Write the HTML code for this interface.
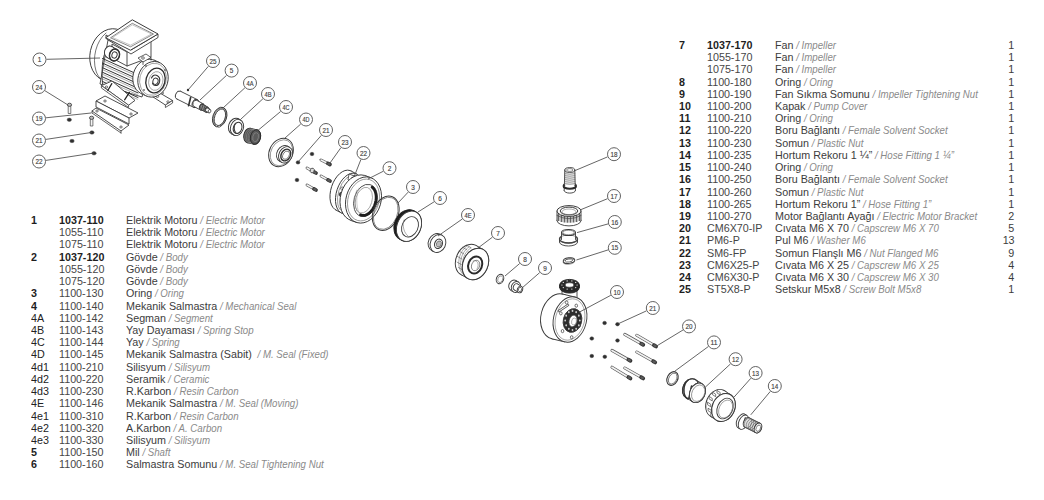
<!DOCTYPE html>
<html><head><meta charset="utf-8"><style>
html,body{margin:0;padding:0;background:#fff;}
body{width:1044px;height:500px;position:relative;overflow:hidden;font-family:"Liberation Sans",sans-serif;}
.r{position:absolute;left:0;width:1044px;height:12.22px;font-size:11.3px;line-height:12.22px;color:#3c3c3c;white-space:pre;}
.r span{position:absolute;top:0;transform:scaleX(0.95);transform-origin:0 0;}
.r span.q{transform-origin:100% 0;}
.n{color:#222;}
.b{font-weight:bold;color:#1e1e1e;}
.c{color:#464646;}
.c.b{color:#1e1e1e;}
.d i{font-size:10.2px;color:#8a8a8a;}
.q{color:#3c3c3c;}
svg{position:absolute;left:0;top:0;}
</style></head><body>
<svg width="1044" height="500" viewBox="0 0 1044 500" font-family="Liberation Sans, sans-serif"><ellipse cx="111" cy="55" rx="21" ry="26.5" fill="#fff" stroke="#3a3a3a" stroke-width="0.9" transform="rotate(12 111 55)"/>
<path d="M 106,33 C 96,41 92,58 96,71 C 98,77 102,81 106,82" fill="none" stroke="#3a3a3a" stroke-width="0.7" stroke-linejoin="round" stroke-linecap="round"/>
<polygon points="108,40 152,60 142,97 100,84" fill="#fff" stroke="#3a3a3a" stroke-width="0.9" stroke-linejoin="round"/>
<line x1="102.5" y1="58.5" x2="138" y2="74.5" stroke="#333" stroke-width="1" stroke-linecap="round"/>
<line x1="103" y1="60.7" x2="137.5" y2="76.3" stroke="#777" stroke-width="0.6" stroke-linecap="round"/>
<line x1="102.5" y1="63.1" x2="138" y2="79.1" stroke="#333" stroke-width="1" stroke-linecap="round"/>
<line x1="103" y1="65.3" x2="137.5" y2="80.9" stroke="#777" stroke-width="0.6" stroke-linecap="round"/>
<line x1="102.5" y1="67.7" x2="138" y2="83.7" stroke="#333" stroke-width="1" stroke-linecap="round"/>
<line x1="103" y1="69.9" x2="137.5" y2="85.5" stroke="#777" stroke-width="0.6" stroke-linecap="round"/>
<line x1="102.5" y1="72.3" x2="138" y2="88.3" stroke="#333" stroke-width="1" stroke-linecap="round"/>
<line x1="103" y1="74.5" x2="137.5" y2="90.1" stroke="#777" stroke-width="0.6" stroke-linecap="round"/>
<line x1="102.5" y1="76.9" x2="138" y2="92.9" stroke="#333" stroke-width="1" stroke-linecap="round"/>
<line x1="103" y1="79.1" x2="137.5" y2="94.7" stroke="#777" stroke-width="0.6" stroke-linecap="round"/>
<line x1="102.5" y1="81.5" x2="138" y2="97.5" stroke="#333" stroke-width="1" stroke-linecap="round"/>
<line x1="103" y1="83.7" x2="137.5" y2="99.3" stroke="#777" stroke-width="0.6" stroke-linecap="round"/>
<path d="M 109,46 C 103,52 101,66 102.5,84" fill="none" stroke="#333" stroke-width="0.9" stroke-linejoin="round" stroke-linecap="round"/>
<polygon points="101.4,85.6 112,81 135,100.4 128.6,105.2" fill="#fff" stroke="#3a3a3a" stroke-width="0.9" stroke-linejoin="round"/>
<polygon points="101.4,85.6 128.6,105.2 128.6,107.5 101.4,88" fill="#fff" stroke="#3a3a3a" stroke-width="0.8" stroke-linejoin="round"/>
<line x1="111.8" y1="83.6" x2="107.8" y2="90.5" stroke="#222" stroke-width="1.2" stroke-linecap="round"/>
<line x1="129.4" y1="92.4" x2="124.6" y2="99.8" stroke="#222" stroke-width="1.2" stroke-linecap="round"/>
<polygon points="151,95.6 159,92.5 172.6,100.5 165.4,105" fill="#fff" stroke="#3a3a3a" stroke-width="0.9" stroke-linejoin="round"/>
<polygon points="165.4,105 172.6,100.5 172.6,103 165.4,107.5" fill="#fff" stroke="#3a3a3a" stroke-width="0.8" stroke-linejoin="round"/>
<ellipse cx="106.5" cy="87" rx="1.2" ry="1" fill="#fff" stroke="#3a3a3a" stroke-width="0.7"/>
<ellipse cx="157.4" cy="96.5" rx="1.3" ry="1" fill="#fff" stroke="#3a3a3a" stroke-width="0.7"/>
<ellipse cx="168" cy="101.8" rx="1.2" ry="1" fill="#fff" stroke="#3a3a3a" stroke-width="0.7"/>
<ellipse cx="148" cy="77" rx="15" ry="18" fill="#fff" stroke="#3a3a3a" stroke-width="0.9" transform="rotate(15 148 77)"/>
<polygon points="141.37,93.68 146.37,95.98 159.63,62.62 154.63,60.32" fill="#fff"/>
<line x1="141.37" y1="93.68" x2="146.37" y2="95.98" stroke="#3a3a3a" stroke-width="0.9" stroke-linecap="round"/>
<line x1="154.63" y1="60.32" x2="159.63" y2="62.62" stroke="#3a3a3a" stroke-width="0.9" stroke-linecap="round"/>
<ellipse cx="153" cy="79.3" rx="15" ry="18" fill="#fff" stroke="#3a3a3a" stroke-width="0.9" transform="rotate(15 153 79.3)"/>
<ellipse cx="153" cy="79.3" rx="13.2" ry="16.2" fill="none" stroke="#777" stroke-width="0.6" transform="rotate(15 153 79.3)"/>
<ellipse cx="155.5" cy="80.5" rx="9.5" ry="12.5" fill="#fff" stroke="#2a2a2a" stroke-width="1.3" transform="rotate(15 155.5 80.5)"/>
<ellipse cx="155.8" cy="81" rx="7" ry="9.5" fill="none" stroke="#777" stroke-width="0.6" transform="rotate(15 155.8 81)"/>
<path d="M 151.5,78 C 154,72 161,76 159.5,82 C 158,87 153,86 152.5,83" fill="none" stroke="#333" stroke-width="1.1" stroke-linejoin="round" stroke-linecap="round"/>
<ellipse cx="155.5" cy="81.3" rx="2.6" ry="3.2" fill="#fff" stroke="#3a3a3a" stroke-width="1" transform="rotate(15 155.5 81.3)"/>
<ellipse cx="146" cy="66" rx="0.9" ry="0.9" fill="#666"/>
<ellipse cx="165" cy="70" rx="0.9" ry="0.9" fill="#666"/>
<ellipse cx="163" cy="93" rx="0.9" ry="0.9" fill="#666"/>
<ellipse cx="144" cy="90" rx="0.9" ry="0.9" fill="#666"/>
<polygon points="112,44 127,52 151,40 151,57 127,66 112,58" fill="#fff" stroke="#3a3a3a" stroke-width="0.9" stroke-linejoin="round"/>
<line x1="127" y1="52" x2="127" y2="66" stroke="#3a3a3a" stroke-width="0.9" stroke-linecap="round"/>
<polygon points="106,38.5 131,54 158,37.5 158,34 131,50 106,35" fill="#fff" stroke="#3a3a3a" stroke-width="0.9" stroke-linejoin="round"/>
<polygon points="105.7,37.8 132.3,19.8 158,34 130.4,50.2" fill="#fff" stroke="#3a3a3a" stroke-width="1" stroke-linejoin="round"/>
<polygon points="110.5,37.8 132.3,23.3 153.5,34 130.6,46.8" fill="none" stroke="#555" stroke-width="0.7" stroke-linejoin="round"/>
<polygon points="112.5,37.5 132.3,24.8 151.5,34 130.6,45.2" fill="none" stroke="#888" stroke-width="0.5" stroke-linejoin="round"/>
<ellipse cx="109.5" cy="52" rx="5" ry="6" fill="#fff" stroke="#3a3a3a" stroke-width="1" transform="rotate(15 109.5 52)"/>
<polygon points="106.82,57.31 111.82,60.31 117.18,49.69 112.18,46.69" fill="#fff"/>
<line x1="106.82" y1="57.31" x2="111.82" y2="60.31" stroke="#3a3a3a" stroke-width="1" stroke-linecap="round"/>
<line x1="112.18" y1="46.69" x2="117.18" y2="49.69" stroke="#3a3a3a" stroke-width="1" stroke-linecap="round"/>
<ellipse cx="114.5" cy="55" rx="5" ry="6" fill="#fff" stroke="#3a3a3a" stroke-width="1" transform="rotate(15 114.5 55)"/>
<ellipse cx="114.5" cy="55" rx="5" ry="6" fill="none" stroke="#333" stroke-width="1.4" transform="rotate(15 114.5 55)"/>
<ellipse cx="114.5" cy="55" rx="2.6" ry="3.2" fill="#fff" stroke="#3a3a3a" stroke-width="1" transform="rotate(15 114.5 55)"/>
<polygon points="138,58 146,54 151,57.5 143,62" fill="#fff" stroke="#3a3a3a" stroke-width="0.8" stroke-linejoin="round"/>
<line x1="143" y1="62" x2="143" y2="64.5" stroke="#3a3a3a" stroke-width="0.8" stroke-linecap="round"/>
<line x1="151" y1="57.5" x2="151" y2="60" stroke="#3a3a3a" stroke-width="0.8" stroke-linecap="round"/>
<ellipse cx="143" cy="58" rx="1.4" ry="1.2" fill="#fff" stroke="#3a3a3a" stroke-width="0.7"/>
<polygon points="96,101 105,96 138,113 129,118" fill="#fff" stroke="#3a3a3a" stroke-width="0.9" stroke-linejoin="round"/>
<polygon points="96,101 129,118 129,124 96,107" fill="#fff" stroke="#3a3a3a" stroke-width="0.9" stroke-linejoin="round"/>
<polygon points="92,111 96,108 129,125 121,131" fill="#fff" stroke="#3a3a3a" stroke-width="0.9" stroke-linejoin="round"/>
<line x1="121" y1="131" x2="121" y2="133" stroke="#3a3a3a" stroke-width="0.8" stroke-linecap="round"/>
<line x1="92" y1="111" x2="92" y2="113" stroke="#3a3a3a" stroke-width="0.8" stroke-linecap="round"/>
<line x1="92" y1="113" x2="121" y2="133" stroke="#3a3a3a" stroke-width="0.8" stroke-linecap="round"/>
<ellipse cx="105" cy="101" rx="1.3" ry="1" fill="#fff" stroke="#3a3a3a" stroke-width="0.7"/>
<ellipse cx="131" cy="114" rx="1.3" ry="1" fill="#fff" stroke="#3a3a3a" stroke-width="0.7"/>
<ellipse cx="97" cy="111" rx="1.3" ry="1" fill="#fff" stroke="#3a3a3a" stroke-width="0.7"/>
<ellipse cx="121" cy="127" rx="1.3" ry="1" fill="#fff" stroke="#3a3a3a" stroke-width="0.7"/>
<polygon points="68.2,104.5 70.8,104.5 70.8,113.5 68.2,113.5" fill="#f4f4f4" stroke="#444" stroke-width="0.7" stroke-linejoin="round"/>
<ellipse cx="69.5" cy="104.8" rx="2.1" ry="1.6" fill="#bbb" stroke="#333" stroke-width="0.8"/>
<polygon points="90.3,117.5 92.9,117.5 92.9,126 90.3,126" fill="#f4f4f4" stroke="#444" stroke-width="0.7" stroke-linejoin="round"/>
<ellipse cx="91.6" cy="117.8" rx="2.1" ry="1.6" fill="#bbb" stroke="#333" stroke-width="0.8"/>
<ellipse cx="69.3" cy="119.8" rx="2.2" ry="1.7" fill="#2e2e2e" stroke="#555" stroke-width="0.5"/>
<ellipse cx="91.9" cy="132.5" rx="2.2" ry="1.7" fill="#2e2e2e" stroke="#555" stroke-width="0.5"/>
<ellipse cx="72" cy="141" rx="2.2" ry="1.7" fill="#2e2e2e" stroke="#555" stroke-width="0.5"/>
<ellipse cx="94" cy="153.3" rx="2.2" ry="1.7" fill="#2e2e2e" stroke="#555" stroke-width="0.5"/>
<ellipse cx="178.8" cy="95.2" rx="3.2" ry="4.3" fill="#fff" stroke="#3a3a3a" stroke-width="0.9" transform="rotate(20 178.8 95.2)"/>
<polygon points="177.12,99.15 193.82,107.45 197.18,99.55 180.48,91.25" fill="#fff"/>
<line x1="177.12" y1="99.15" x2="193.82" y2="107.45" stroke="#3a3a3a" stroke-width="0.9" stroke-linecap="round"/>
<line x1="180.48" y1="91.25" x2="197.18" y2="99.55" stroke="#3a3a3a" stroke-width="0.9" stroke-linecap="round"/>
<ellipse cx="195.5" cy="103.5" rx="3.2" ry="4.3" fill="#fff" stroke="#3a3a3a" stroke-width="0.9" transform="rotate(20 195.5 103.5)"/>
<line x1="190.6" y1="97.6" x2="188.6" y2="105.6" stroke="#333" stroke-width="1.7" stroke-linecap="round"/>
<ellipse cx="195.5" cy="103.5" rx="2.6" ry="3.4" fill="#fff" stroke="#3a3a3a" stroke-width="0.9" transform="rotate(20 195.5 103.5)"/>
<polygon points="194.09,106.58 200.59,110.08 203.41,103.92 196.91,100.42" fill="#fff"/>
<line x1="194.09" y1="106.58" x2="200.59" y2="110.08" stroke="#3a3a3a" stroke-width="0.9" stroke-linecap="round"/>
<line x1="196.91" y1="100.42" x2="203.41" y2="103.92" stroke="#3a3a3a" stroke-width="0.9" stroke-linecap="round"/>
<ellipse cx="202" cy="107" rx="2.6" ry="3.4" fill="#fff" stroke="#3a3a3a" stroke-width="0.9" transform="rotate(20 202 107)"/>
<ellipse cx="202" cy="107" rx="2" ry="2.8" fill="#888" stroke="#3a3a3a" stroke-width="0.9" transform="rotate(20 202 107)"/>
<polygon points="200.85,109.55 205.85,112.35 208.15,107.25 203.15,104.45" fill="#888"/>
<line x1="200.85" y1="109.55" x2="205.85" y2="112.35" stroke="#3a3a3a" stroke-width="0.9" stroke-linecap="round"/>
<line x1="203.15" y1="104.45" x2="208.15" y2="107.25" stroke="#3a3a3a" stroke-width="0.9" stroke-linecap="round"/>
<ellipse cx="207" cy="109.8" rx="2" ry="2.8" fill="#888" stroke="#3a3a3a" stroke-width="0.9" transform="rotate(20 207 109.8)"/>
<line x1="203.2" y1="104.6" x2="201.5" y2="109.3" stroke="#333" stroke-width="0.7" stroke-linecap="round"/>
<line x1="205.2" y1="105.8" x2="203.5" y2="110.3" stroke="#333" stroke-width="0.7" stroke-linecap="round"/>
<ellipse cx="207" cy="109.8" rx="1.3" ry="1.8" fill="#fff" stroke="#3a3a3a" stroke-width="0.8" transform="rotate(20 207 109.8)"/>
<polygon points="206.26,111.44 208.76,112.84 210.24,109.56 207.74,108.16" fill="#fff"/>
<line x1="206.26" y1="111.44" x2="208.76" y2="112.84" stroke="#3a3a3a" stroke-width="0.8" stroke-linecap="round"/>
<line x1="207.74" y1="108.16" x2="210.24" y2="109.56" stroke="#3a3a3a" stroke-width="0.8" stroke-linecap="round"/>
<ellipse cx="209.5" cy="111.2" rx="1.3" ry="1.8" fill="#fff" stroke="#3a3a3a" stroke-width="0.8" transform="rotate(20 209.5 111.2)"/>
<ellipse cx="219.7" cy="117.1" rx="6" ry="9.4" fill="none" stroke="#999" stroke-width="1.6" transform="rotate(20 219.7 117.1)"/>
<ellipse cx="219.7" cy="117.1" rx="6.8" ry="10.2" fill="none" stroke="#3a3a3a" stroke-width="0.9" transform="rotate(20 219.7 117.1)"/>
<ellipse cx="219.9" cy="117.3" rx="5.2" ry="8.6" fill="none" stroke="#3a3a3a" stroke-width="0.8" transform="rotate(20 219.9 117.3)"/>
<ellipse cx="216.5" cy="125.8" rx="1.2" ry="0.8" fill="#fff" stroke="#3a3a3a" stroke-width="0.6"/>
<ellipse cx="219.2" cy="126.4" rx="1.2" ry="0.8" fill="#fff" stroke="#3a3a3a" stroke-width="0.6"/>
<ellipse cx="235" cy="126.3" rx="6.4" ry="8.3" fill="#fff" stroke="#3a3a3a" stroke-width="0.95" transform="rotate(20 235 126.3)"/>
<polygon points="231.35,133.72 233.35,134.92 240.65,120.08 238.65,118.88" fill="#fff"/>
<line x1="231.35" y1="133.72" x2="233.35" y2="134.92" stroke="#3a3a3a" stroke-width="0.95" stroke-linecap="round"/>
<line x1="238.65" y1="118.88" x2="240.65" y2="120.08" stroke="#3a3a3a" stroke-width="0.95" stroke-linecap="round"/>
<ellipse cx="237" cy="127.5" rx="6.4" ry="8.3" fill="#fff" stroke="#3a3a3a" stroke-width="0.95" transform="rotate(20 237 127.5)"/>
<ellipse cx="237.6" cy="127.9" rx="4.2" ry="5.8" fill="#fff" stroke="#333" stroke-width="1" transform="rotate(20 237.6 127.9)"/>
<path d="M 235.5,123.5 C 233.5,126 233.8,131 236,133" fill="none" stroke="#444" stroke-width="1.2" stroke-linejoin="round" stroke-linecap="round"/>
<ellipse cx="248.8" cy="135.5" rx="5" ry="7.3" fill="#555" stroke="#2c2c2c" stroke-width="1" transform="rotate(12 248.8 135.5)"/>
<polygon points="247.28,142.64 253.98,144.14 257.02,129.86 250.32,128.36" fill="#555"/>
<line x1="247.28" y1="142.64" x2="253.98" y2="144.14" stroke="#2c2c2c" stroke-width="1" stroke-linecap="round"/>
<line x1="250.32" y1="128.36" x2="257.02" y2="129.86" stroke="#2c2c2c" stroke-width="1" stroke-linecap="round"/>
<ellipse cx="255.5" cy="137" rx="5" ry="7.3" fill="#555" stroke="#2c2c2c" stroke-width="1" transform="rotate(12 255.5 137)"/>
<ellipse cx="249.64" cy="135.69" rx="4.8" ry="7.1" fill="none" stroke="#999" stroke-width="0.45" transform="rotate(12 249.64 135.69)"/>
<ellipse cx="251.31" cy="136.06" rx="4.8" ry="7.1" fill="none" stroke="#999" stroke-width="0.45" transform="rotate(12 251.31 136.06)"/>
<ellipse cx="252.99" cy="136.44" rx="4.8" ry="7.1" fill="none" stroke="#999" stroke-width="0.45" transform="rotate(12 252.99 136.44)"/>
<ellipse cx="254.66" cy="136.81" rx="4.8" ry="7.1" fill="none" stroke="#999" stroke-width="0.45" transform="rotate(12 254.66 136.81)"/>
<ellipse cx="255.5" cy="137" rx="5" ry="7.3" fill="#5a5a5a" stroke="#2c2c2c" stroke-width="0.9" transform="rotate(12 255.5 137)"/>
<ellipse cx="255.6" cy="137.2" rx="2.8" ry="4.6" fill="none" stroke="#999" stroke-width="0.5" transform="rotate(12 255.6 137.2)"/>
<ellipse cx="281" cy="152.5" rx="11.6" ry="14.8" fill="#fff" stroke="#3a3a3a" stroke-width="0.95" transform="rotate(28 281 152.5)"/>
<ellipse cx="281.4" cy="152.8" rx="10.4" ry="13.6" fill="none" stroke="#666" stroke-width="0.6" transform="rotate(28 281.4 152.8)"/>
<ellipse cx="283.5" cy="153.6" rx="6.6" ry="8.5" fill="#fff" stroke="#3a3a3a" stroke-width="0.9" transform="rotate(28 283.5 153.6)"/>
<polygon points="279.31,160.99 281.41,162.19 289.79,147.41 287.69,146.21" fill="#fff"/>
<line x1="279.31" y1="160.99" x2="281.41" y2="162.19" stroke="#3a3a3a" stroke-width="0.9" stroke-linecap="round"/>
<line x1="287.69" y1="146.21" x2="289.79" y2="147.41" stroke="#3a3a3a" stroke-width="0.9" stroke-linecap="round"/>
<ellipse cx="285.6" cy="154.8" rx="6.6" ry="8.5" fill="#fff" stroke="#3a3a3a" stroke-width="0.9" transform="rotate(28 285.6 154.8)"/>
<ellipse cx="285.8" cy="155" rx="4.6" ry="6.2" fill="#fff" stroke="#333" stroke-width="1.4" transform="rotate(28 285.8 155)"/>
<ellipse cx="286" cy="155.2" rx="3" ry="4.4" fill="#fff" stroke="#3a3a3a" stroke-width="0.6" transform="rotate(28 286 155.2)"/>
<ellipse cx="312" cy="154" rx="1.9" ry="1.71" fill="#2e2e2e" stroke="#444" stroke-width="0.5"/>
<ellipse cx="298" cy="162.4" rx="1.9" ry="1.71" fill="#2e2e2e" stroke="#444" stroke-width="0.5"/>
<ellipse cx="297" cy="180" rx="1.9" ry="1.71" fill="#2e2e2e" stroke="#444" stroke-width="0.5"/>
<line x1="321" y1="160" x2="327.94" y2="163.47" stroke="#555" stroke-width="2.8" stroke-linecap="round"/>
<line x1="321" y1="160" x2="327.94" y2="163.47" stroke="#f2f2f2" stroke-width="1.5" stroke-linecap="round"/>
<line x1="327.94" y1="163.47" x2="330" y2="164.5" stroke="#333" stroke-width="3.7" stroke-linecap="round"/>
<line x1="328.3" y1="163.65" x2="329.46" y2="164.23" stroke="#5a5a5a" stroke-width="2.3" stroke-linecap="round"/>
<line x1="307" y1="168" x2="313.99" y2="171.88" stroke="#555" stroke-width="2.8" stroke-linecap="round"/>
<line x1="307" y1="168" x2="313.99" y2="171.88" stroke="#f2f2f2" stroke-width="1.5" stroke-linecap="round"/>
<line x1="313.99" y1="171.88" x2="316" y2="173" stroke="#333" stroke-width="3.7" stroke-linecap="round"/>
<line x1="314.34" y1="172.08" x2="315.48" y2="172.71" stroke="#5a5a5a" stroke-width="2.3" stroke-linecap="round"/>
<line x1="321" y1="176" x2="327.99" y2="179.88" stroke="#555" stroke-width="2.8" stroke-linecap="round"/>
<line x1="321" y1="176" x2="327.99" y2="179.88" stroke="#f2f2f2" stroke-width="1.5" stroke-linecap="round"/>
<line x1="327.99" y1="179.88" x2="330" y2="181" stroke="#333" stroke-width="3.7" stroke-linecap="round"/>
<line x1="328.34" y1="180.08" x2="329.48" y2="180.71" stroke="#5a5a5a" stroke-width="2.3" stroke-linecap="round"/>
<line x1="307" y1="185" x2="313.99" y2="188.88" stroke="#555" stroke-width="2.8" stroke-linecap="round"/>
<line x1="307" y1="185" x2="313.99" y2="188.88" stroke="#f2f2f2" stroke-width="1.5" stroke-linecap="round"/>
<line x1="313.99" y1="188.88" x2="316" y2="190" stroke="#333" stroke-width="3.7" stroke-linecap="round"/>
<line x1="314.34" y1="189.08" x2="315.48" y2="189.71" stroke="#5a5a5a" stroke-width="2.3" stroke-linecap="round"/>
<ellipse cx="312.2" cy="170.5" rx="1.9" ry="2.4" fill="#ddd" stroke="#444" stroke-width="0.8" transform="rotate(28 312.2 170.5)"/>
<ellipse cx="343.5" cy="190.5" rx="12.5" ry="21" fill="#fff" stroke="#3a3a3a" stroke-width="0.9" transform="rotate(18 343.5 190.5)"/>
<polygon points="335.8,209.96 341.3,212.96 356.7,174.04 351.2,171.04" fill="#fff"/>
<line x1="335.8" y1="209.96" x2="341.3" y2="212.96" stroke="#3a3a3a" stroke-width="0.9" stroke-linecap="round"/>
<line x1="351.2" y1="171.04" x2="356.7" y2="174.04" stroke="#3a3a3a" stroke-width="0.9" stroke-linecap="round"/>
<ellipse cx="349" cy="193.5" rx="12.5" ry="21" fill="#fff" stroke="#3a3a3a" stroke-width="0.9" transform="rotate(18 349 193.5)"/>
<ellipse cx="349" cy="193.5" rx="10.5" ry="19" fill="none" stroke="#666" stroke-width="0.6" transform="rotate(18 349 193.5)"/>
<polygon points="350,175 366,181 360,217 343,210" fill="#fff"/>
<line x1="350" y1="175.5" x2="366" y2="181.5" stroke="#3a3a3a" stroke-width="0.8" stroke-linecap="round"/>
<line x1="343" y1="210" x2="357" y2="218" stroke="#3a3a3a" stroke-width="0.8" stroke-linecap="round"/>
<ellipse cx="340.6" cy="194.3" rx="1.6" ry="2" fill="#444" stroke="#3a3a3a" stroke-width="0.5" transform="rotate(18 340.6 194.3)"/>
<ellipse cx="341.9" cy="188.4" rx="1.2" ry="1.5" fill="#fff" stroke="#3a3a3a" stroke-width="0.6" transform="rotate(18 341.9 188.4)"/>
<polygon points="349,174 357,177 356,183 348,180" fill="#fff" stroke="#3a3a3a" stroke-width="0.8" stroke-linejoin="round"/>
<ellipse cx="353" cy="178.5" rx="1.6" ry="1.44" fill="#2e2e2e" stroke="#444" stroke-width="0.5"/>
<ellipse cx="358" cy="198" rx="17.5" ry="23.5" fill="#fff" stroke="#3a3a3a" stroke-width="0.9" transform="rotate(16 358 198)"/>
<polygon points="350.94,220.41 356.44,222.41 370.56,177.59 365.06,175.59" fill="#fff"/>
<line x1="350.94" y1="220.41" x2="356.44" y2="222.41" stroke="#3a3a3a" stroke-width="0.9" stroke-linecap="round"/>
<line x1="365.06" y1="175.59" x2="370.56" y2="177.59" stroke="#3a3a3a" stroke-width="0.9" stroke-linecap="round"/>
<ellipse cx="363.5" cy="200" rx="17.5" ry="23.5" fill="#fff" stroke="#3a3a3a" stroke-width="0.9" transform="rotate(16 363.5 200)"/>
<ellipse cx="363.5" cy="200" rx="15.5" ry="21.3" fill="none" stroke="#666" stroke-width="0.6" transform="rotate(16 363.5 200)"/>
<ellipse cx="365.5" cy="200.5" rx="11.5" ry="16.5" fill="#fff" stroke="#3a3a3a" stroke-width="0.8" transform="rotate(16 365.5 200.5)"/>
<path d="M 372.08,187.11 L 373.07,188.02 L 373.94,189.11 L 374.68,190.38 L 375.28,191.80 L 375.73,193.36 L 376.02,195.02 L 376.15,196.77 L 376.13,198.57 L 375.93,200.41 L 375.58,202.24 L 375.08,204.05 L 374.43,205.81 L 373.64,207.48 L 372.73,209.05 L 371.71,210.48 L 370.59,211.77 L 369.40,212.88 L 368.14,213.80 L 366.85,214.52 L 365.54,215.03 L 364.22,215.31 L 362.93,215.37 L 361.67,215.20 L 360.47,214.81" fill="none" stroke="#1e1e1e" stroke-width="2.8" stroke-linejoin="round" stroke-linecap="round"/>
<ellipse cx="363.8" cy="200.2" rx="8.2" ry="13.2" fill="none" stroke="#777" stroke-width="0.6" transform="rotate(16 363.8 200.2)"/>
<path d="M 357,190 C 354,196 354,205 357,211" fill="none" stroke="#888" stroke-width="0.6" stroke-linejoin="round" stroke-linecap="round"/>
<path d="M 359,188 C 356,195 356,206 359,213" fill="none" stroke="#999" stroke-width="0.5" stroke-linejoin="round" stroke-linecap="round"/>
<ellipse cx="385.7" cy="213.3" rx="12.6" ry="17.8" fill="none" stroke="#3a3a3a" stroke-width="1" transform="rotate(22 385.7 213.3)"/>
<ellipse cx="385.7" cy="213.3" rx="11.5" ry="16.7" fill="none" stroke="#666" stroke-width="0.7" transform="rotate(22 385.7 213.3)"/>
<ellipse cx="406.5" cy="224.8" rx="11.8" ry="15.8" fill="#1e1e1e" stroke="#1e1e1e" stroke-width="0.9" transform="rotate(25 406.5 224.8)"/>
<polygon points="399.09,238.74 401.59,240.14 416.41,212.26 413.91,210.86" fill="#1e1e1e"/>
<line x1="399.09" y1="238.74" x2="401.59" y2="240.14" stroke="#1e1e1e" stroke-width="0.9" stroke-linecap="round"/>
<line x1="413.91" y1="210.86" x2="416.41" y2="212.26" stroke="#1e1e1e" stroke-width="0.9" stroke-linecap="round"/>
<ellipse cx="409" cy="226.2" rx="11.8" ry="15.8" fill="#1e1e1e" stroke="#1e1e1e" stroke-width="0.9" transform="rotate(25 409 226.2)"/>
<ellipse cx="409" cy="226.2" rx="11.8" ry="15.8" fill="#fff" stroke="#3a3a3a" stroke-width="0.9" transform="rotate(25 409 226.2)"/>
<ellipse cx="410" cy="226.8" rx="8" ry="10.6" fill="#fff" stroke="#3a3a3a" stroke-width="0.9" transform="rotate(25 410 226.8)"/>
<path d="M 404,220 C 402,226 404,233 408,236" fill="none" stroke="#777" stroke-width="0.6" stroke-linejoin="round" stroke-linecap="round"/>
<ellipse cx="436" cy="242.5" rx="7.6" ry="9.2" fill="#fff" stroke="#3a3a3a" stroke-width="0.9" transform="rotate(25 436 242.5)"/>
<polygon points="431.87,250.72 433.87,251.72 442.13,235.28 440.13,234.28" fill="#fff"/>
<line x1="431.87" y1="250.72" x2="433.87" y2="251.72" stroke="#3a3a3a" stroke-width="0.9" stroke-linecap="round"/>
<line x1="440.13" y1="234.28" x2="442.13" y2="235.28" stroke="#3a3a3a" stroke-width="0.9" stroke-linecap="round"/>
<ellipse cx="438" cy="243.5" rx="7.6" ry="9.2" fill="#fff" stroke="#3a3a3a" stroke-width="0.9" transform="rotate(25 438 243.5)"/>
<ellipse cx="438.5" cy="243.8" rx="3.8" ry="4.8" fill="#fff" stroke="#3a3a3a" stroke-width="1.1" transform="rotate(25 438.5 243.8)"/>
<ellipse cx="438.8" cy="244" rx="2.4" ry="3.2" fill="#bbb" stroke="#3a3a3a" stroke-width="0.5" transform="rotate(25 438.8 244)"/>
<ellipse cx="468.5" cy="260" rx="12.4" ry="16.4" fill="#fff" stroke="#3a3a3a" stroke-width="0.95" transform="rotate(25 468.5 260)"/>
<polygon points="460.8,274.46 467.8,278.46 483.2,249.54 476.2,245.54" fill="#fff"/>
<line x1="460.8" y1="274.46" x2="467.8" y2="278.46" stroke="#3a3a3a" stroke-width="0.95" stroke-linecap="round"/>
<line x1="476.2" y1="245.54" x2="483.2" y2="249.54" stroke="#3a3a3a" stroke-width="0.95" stroke-linecap="round"/>
<ellipse cx="475.5" cy="264" rx="12.4" ry="16.4" fill="#fff" stroke="#3a3a3a" stroke-width="0.95" transform="rotate(25 475.5 264)"/>
<path d="M 467.2,246.0 C 456.2,253.0 456.2,271.0 465.2,276.0" fill="none" stroke="#666" stroke-width="0.55" stroke-linejoin="round" stroke-linecap="round"/>
<path d="M 469.0,247.0 C 458.0,254.0 458.0,272.0 467.0,277.0" fill="none" stroke="#666" stroke-width="0.55" stroke-linejoin="round" stroke-linecap="round"/>
<path d="M 470.8,248.0 C 459.8,255.0 459.8,273.0 468.8,278.0" fill="none" stroke="#666" stroke-width="0.55" stroke-linejoin="round" stroke-linecap="round"/>
<line x1="458.46" y1="267.54" x2="462.96" y2="270.14" stroke="#555" stroke-width="0.6" stroke-linecap="round"/>
<line x1="457.02" y1="262.1" x2="461.52" y2="264.7" stroke="#555" stroke-width="0.6" stroke-linecap="round"/>
<line x1="457.25" y1="256.35" x2="461.75" y2="258.95" stroke="#555" stroke-width="0.6" stroke-linecap="round"/>
<line x1="459.12" y1="251.13" x2="463.62" y2="253.73" stroke="#555" stroke-width="0.6" stroke-linecap="round"/>
<line x1="462.36" y1="247.2" x2="466.86" y2="249.8" stroke="#555" stroke-width="0.6" stroke-linecap="round"/>
<line x1="466.49" y1="245.14" x2="470.99" y2="247.74" stroke="#555" stroke-width="0.6" stroke-linecap="round"/>
<ellipse cx="475.5" cy="264" rx="12.4" ry="16.4" fill="#fff" stroke="#3a3a3a" stroke-width="0.95" transform="rotate(25 475.5 264)"/>
<ellipse cx="475.2" cy="265" rx="6.8" ry="8.8" fill="#fff" stroke="#2a2a2a" stroke-width="2" transform="rotate(22 475.2 265)"/>
<ellipse cx="475.6" cy="265.5" rx="4" ry="5.4" fill="#fff" stroke="#666" stroke-width="0.7" transform="rotate(22 475.6 265.5)"/>
<path d="M 473,261 C 477,259 480,264 477,269" fill="none" stroke="#777" stroke-width="0.6" stroke-linejoin="round" stroke-linecap="round"/>
<ellipse cx="500" cy="279" rx="3.6" ry="4.8" fill="none" stroke="#3a3a3a" stroke-width="1" transform="rotate(22 500 279)"/>
<ellipse cx="500.3" cy="279.2" rx="2.4" ry="3.5" fill="none" stroke="#666" stroke-width="0.6" transform="rotate(22 500.3 279.2)"/>
<ellipse cx="513.5" cy="285.5" rx="4.6" ry="5.6" fill="#fff" stroke="#3a3a3a" stroke-width="0.9" transform="rotate(22 513.5 285.5)"/>
<polygon points="510.83,290.4 513.33,291.9 518.67,282.1 516.17,280.6" fill="#fff"/>
<line x1="510.83" y1="290.4" x2="513.33" y2="291.9" stroke="#3a3a3a" stroke-width="0.9" stroke-linecap="round"/>
<line x1="516.17" y1="280.6" x2="518.67" y2="282.1" stroke="#3a3a3a" stroke-width="0.9" stroke-linecap="round"/>
<ellipse cx="516" cy="287" rx="4.6" ry="5.6" fill="#fff" stroke="#3a3a3a" stroke-width="0.9" transform="rotate(22 516 287)"/>
<ellipse cx="516" cy="287" rx="2.6" ry="3.4" fill="#fff" stroke="#3a3a3a" stroke-width="0.9" transform="rotate(22 516 287)"/>
<polygon points="514.4,289.99 518.4,292.49 521.6,286.51 517.6,284.01" fill="#fff"/>
<line x1="514.4" y1="289.99" x2="518.4" y2="292.49" stroke="#3a3a3a" stroke-width="0.9" stroke-linecap="round"/>
<line x1="517.6" y1="284.01" x2="521.6" y2="286.51" stroke="#3a3a3a" stroke-width="0.9" stroke-linecap="round"/>
<ellipse cx="520" cy="289.5" rx="2.6" ry="3.4" fill="#fff" stroke="#3a3a3a" stroke-width="0.9" transform="rotate(22 520 289.5)"/>
<ellipse cx="520" cy="289.5" rx="1.6" ry="2.2" fill="#fff" stroke="#3a3a3a" stroke-width="0.7" transform="rotate(22 520 289.5)"/>
<ellipse cx="569.8" cy="190.5" rx="5.6" ry="2.6" fill="#fff" stroke="#3a3a3a" stroke-width="0.9"/>
<polygon points="564.2,186 575.4,186 575.4,190.5 564.2,190.5" fill="#fff"/>
<line x1="564.2" y1="186" x2="564.2" y2="190.5" stroke="#3a3a3a" stroke-width="0.9" stroke-linecap="round"/>
<line x1="575.4" y1="186" x2="575.4" y2="190.5" stroke="#3a3a3a" stroke-width="0.9" stroke-linecap="round"/>
<ellipse cx="569.8" cy="186" rx="6.2" ry="2.8" fill="#fff" stroke="#2a2a2a" stroke-width="2"/>
<polygon points="564.8,170 574.8,170 575.2,185 564.4,185" fill="#e2e2e2"/>
<line x1="564.8" y1="170" x2="564.4" y2="185.5" stroke="#3a3a3a" stroke-width="0.9" stroke-linecap="round"/>
<line x1="574.8" y1="170" x2="575.2" y2="185.5" stroke="#3a3a3a" stroke-width="0.9" stroke-linecap="round"/>
<path d="M 564.6,173.5 Q 569.8,175.3 575,173.5" fill="none" stroke="#666" stroke-width="0.5" stroke-linejoin="round" stroke-linecap="round"/>
<path d="M 564.6,175.5 Q 569.8,177.3 575,175.5" fill="none" stroke="#666" stroke-width="0.5" stroke-linejoin="round" stroke-linecap="round"/>
<path d="M 564.6,177.5 Q 569.8,179.3 575,177.5" fill="none" stroke="#666" stroke-width="0.5" stroke-linejoin="round" stroke-linecap="round"/>
<path d="M 564.6,179.5 Q 569.8,181.3 575,179.5" fill="none" stroke="#666" stroke-width="0.5" stroke-linejoin="round" stroke-linecap="round"/>
<path d="M 564.6,181.5 Q 569.8,183.3 575,181.5" fill="none" stroke="#666" stroke-width="0.5" stroke-linejoin="round" stroke-linecap="round"/>
<path d="M 564.6,183.5 Q 569.8,185.3 575,183.5" fill="none" stroke="#666" stroke-width="0.5" stroke-linejoin="round" stroke-linecap="round"/>
<ellipse cx="569.8" cy="170" rx="5" ry="2.4" fill="#fff" stroke="#3a3a3a" stroke-width="0.9"/>
<ellipse cx="569.8" cy="170" rx="3.2" ry="1.4" fill="#fff" stroke="#3a3a3a" stroke-width="0.6"/>
<polygon points="557,211 581,211 581,220.5 557,220.5" fill="#fff"/>
<ellipse cx="569" cy="220.5" rx="12" ry="5.4" fill="#fff" stroke="#3a3a3a" stroke-width="0.9"/>
<polygon points="557,211 581,211 581,220.5 557,220.5" fill="#fff"/>
<line x1="557" y1="211" x2="557" y2="220.5" stroke="#3a3a3a" stroke-width="0.9" stroke-linecap="round"/>
<line x1="581" y1="211" x2="581" y2="220.5" stroke="#3a3a3a" stroke-width="0.9" stroke-linecap="round"/>
<polygon points="557.6,214.07 559.4,214.07 559.4,221.07 557.6,221.07" fill="#666"/>
<polygon points="560.6,215.03 562.4,215.03 562.4,222.03 560.6,222.03" fill="#666"/>
<polygon points="563.6,215.5 565.4,215.5 565.4,222.5 563.6,222.5" fill="#666"/>
<polygon points="566.6,215.71 568.4,215.71 568.4,222.71 566.6,222.71" fill="#666"/>
<polygon points="569.6,215.71 571.4,215.71 571.4,222.71 569.6,222.71" fill="#666"/>
<polygon points="572.6,215.5 574.4,215.5 574.4,222.5 572.6,222.5" fill="#666"/>
<polygon points="575.6,215.03 577.4,215.03 577.4,222.03 575.6,222.03" fill="#666"/>
<polygon points="578.6,214.07 580.4,214.07 580.4,221.07 578.6,221.07" fill="#666"/>
<path d="M 557,215.5 Q 569,222 581,215.5" fill="none" stroke="#444" stroke-width="0.7" stroke-linejoin="round" stroke-linecap="round"/>
<ellipse cx="569" cy="211" rx="12" ry="5.4" fill="#fff" stroke="#3a3a3a" stroke-width="1"/>
<ellipse cx="569" cy="211" rx="8.8" ry="3.9" fill="#fff" stroke="#3a3a3a" stroke-width="1"/>
<ellipse cx="569" cy="211.8" rx="7" ry="2.8" fill="none" stroke="#777" stroke-width="0.6"/>
<ellipse cx="568.5" cy="242" rx="9" ry="4" fill="#fff" stroke="#3a3a3a" stroke-width="0.9"/>
<polygon points="559.5,239 577.5,239 577.5,242 559.5,242" fill="#fff"/>
<line x1="559.5" y1="239" x2="559.5" y2="242" stroke="#3a3a3a" stroke-width="0.9" stroke-linecap="round"/>
<line x1="577.5" y1="239" x2="577.5" y2="242" stroke="#3a3a3a" stroke-width="0.9" stroke-linecap="round"/>
<ellipse cx="568.5" cy="239" rx="9" ry="4" fill="none" stroke="#333" stroke-width="1.4"/>
<polygon points="561.5,232.5 575.5,232.5 575.5,239 561.5,239" fill="#fff"/>
<line x1="561.5" y1="232.5" x2="561.5" y2="239.5" stroke="#3a3a3a" stroke-width="0.9" stroke-linecap="round"/>
<line x1="575.5" y1="232.5" x2="575.5" y2="239.5" stroke="#3a3a3a" stroke-width="0.9" stroke-linecap="round"/>
<ellipse cx="568.5" cy="239" rx="9" ry="4" fill="none" stroke="#555" stroke-width="0.6"/>
<ellipse cx="568.5" cy="232.5" rx="7" ry="3" fill="#fff" stroke="#3a3a3a" stroke-width="1.1"/>
<ellipse cx="568.5" cy="232.5" rx="5.6" ry="2.3" fill="#fff" stroke="#3a3a3a" stroke-width="0.6"/>
<ellipse cx="569" cy="260.6" rx="5.8" ry="2.8" fill="#fff" stroke="#3a3a3a" stroke-width="1" transform="rotate(-8 569 260.6)"/>
<ellipse cx="569" cy="260.4" rx="3.8" ry="1.6" fill="#fff" stroke="#3a3a3a" stroke-width="0.7" transform="rotate(-8 569 260.4)"/>
<ellipse cx="569" cy="261.6" rx="5.8" ry="2.6" fill="none" stroke="#666" stroke-width="0.6" transform="rotate(-8 569 261.6)"/>
<polygon points="562,287 577,287 577,298 562,298" fill="#fff"/>
<line x1="562" y1="288" x2="562" y2="298" stroke="#3a3a3a" stroke-width="0.9" stroke-linecap="round"/>
<line x1="577" y1="288" x2="577" y2="298" stroke="#3a3a3a" stroke-width="0.9" stroke-linecap="round"/>
<ellipse cx="569.5" cy="287.5" rx="9.8" ry="5.6" fill="#2a2a2a" stroke="#222" stroke-width="0.9"/>
<polygon points="579.3,287.5 579.3,285 559.7,285 559.7,287.5" fill="#2a2a2a"/>
<line x1="579.3" y1="287.5" x2="579.3" y2="285" stroke="#222" stroke-width="0.9" stroke-linecap="round"/>
<line x1="559.7" y1="287.5" x2="559.7" y2="285" stroke="#222" stroke-width="0.9" stroke-linecap="round"/>
<ellipse cx="569.5" cy="285" rx="9.8" ry="5.6" fill="#2a2a2a" stroke="#222" stroke-width="0.9"/>
<ellipse cx="577.1" cy="285" rx="0.7" ry="0.6" fill="#ddd"/>
<ellipse cx="575.65" cy="287.53" rx="0.7" ry="0.6" fill="#ddd"/>
<ellipse cx="571.85" cy="289.09" rx="0.7" ry="0.6" fill="#ddd"/>
<ellipse cx="567.15" cy="289.09" rx="0.7" ry="0.6" fill="#ddd"/>
<ellipse cx="563.35" cy="287.53" rx="0.7" ry="0.6" fill="#ddd"/>
<ellipse cx="561.9" cy="285" rx="0.7" ry="0.6" fill="#ddd"/>
<ellipse cx="563.35" cy="282.47" rx="0.7" ry="0.6" fill="#ddd"/>
<ellipse cx="567.15" cy="280.91" rx="0.7" ry="0.6" fill="#ddd"/>
<ellipse cx="571.85" cy="280.91" rx="0.7" ry="0.6" fill="#ddd"/>
<ellipse cx="575.65" cy="282.47" rx="0.7" ry="0.6" fill="#ddd"/>
<ellipse cx="569.5" cy="285" rx="4.2" ry="2.2" fill="#fff" stroke="#555" stroke-width="0.7"/>
<ellipse cx="557.5" cy="316.5" rx="16.5" ry="23" fill="#fff" stroke="#3a3a3a" stroke-width="0.95" transform="rotate(14 557.5 316.5)"/>
<polygon points="551.94,338.82 564.44,341.82 575.56,297.18 563.06,294.18" fill="#fff"/>
<line x1="551.94" y1="338.82" x2="564.44" y2="341.82" stroke="#3a3a3a" stroke-width="0.95" stroke-linecap="round"/>
<line x1="563.06" y1="294.18" x2="575.56" y2="297.18" stroke="#3a3a3a" stroke-width="0.95" stroke-linecap="round"/>
<ellipse cx="570" cy="319.5" rx="16.5" ry="23" fill="#fff" stroke="#3a3a3a" stroke-width="0.95" transform="rotate(14 570 319.5)"/>
<ellipse cx="570" cy="319.5" rx="14.5" ry="21" fill="none" stroke="#777" stroke-width="0.6" transform="rotate(14 570 319.5)"/>
<ellipse cx="560.84" cy="313.33" rx="1.3" ry="1.6" fill="#fff" stroke="#3a3a3a" stroke-width="0.7"/>
<ellipse cx="566.67" cy="302.54" rx="1.3" ry="1.6" fill="#fff" stroke="#3a3a3a" stroke-width="0.7"/>
<ellipse cx="576.27" cy="305.67" rx="1.3" ry="1.6" fill="#fff" stroke="#3a3a3a" stroke-width="0.7"/>
<ellipse cx="579.16" cy="325.67" rx="1.3" ry="1.6" fill="#fff" stroke="#3a3a3a" stroke-width="0.7"/>
<ellipse cx="571.69" cy="337.28" rx="1.3" ry="1.6" fill="#fff" stroke="#3a3a3a" stroke-width="0.7"/>
<ellipse cx="562.53" cy="331.1" rx="1.3" ry="1.6" fill="#fff" stroke="#3a3a3a" stroke-width="0.7"/>
<path d="M 559,311 L 568,305" fill="none" stroke="#555" stroke-width="2.4" stroke-linejoin="round" stroke-linecap="round"/>
<path d="M 559,311 L 568,305" fill="none" stroke="#fff" stroke-width="1" stroke-linejoin="round" stroke-linecap="round"/>
<ellipse cx="572.5" cy="320.5" rx="9.2" ry="12" fill="#2d2d2d" stroke="#3a3a3a" stroke-width="0.9" transform="rotate(14 572.5 320.5)"/>
<ellipse cx="579.8" cy="320.5" rx="0.9" ry="1.1" fill="#ccc"/>
<ellipse cx="578.82" cy="325.3" rx="0.9" ry="1.1" fill="#ccc"/>
<ellipse cx="576.15" cy="328.81" rx="0.9" ry="1.1" fill="#ccc"/>
<ellipse cx="572.5" cy="330.1" rx="0.9" ry="1.1" fill="#ccc"/>
<ellipse cx="568.85" cy="328.81" rx="0.9" ry="1.1" fill="#ccc"/>
<ellipse cx="566.18" cy="325.3" rx="0.9" ry="1.1" fill="#ccc"/>
<ellipse cx="565.2" cy="320.5" rx="0.9" ry="1.1" fill="#ccc"/>
<ellipse cx="566.18" cy="315.7" rx="0.9" ry="1.1" fill="#ccc"/>
<ellipse cx="568.85" cy="312.19" rx="0.9" ry="1.1" fill="#ccc"/>
<ellipse cx="572.5" cy="310.9" rx="0.9" ry="1.1" fill="#ccc"/>
<ellipse cx="576.15" cy="312.19" rx="0.9" ry="1.1" fill="#ccc"/>
<ellipse cx="578.82" cy="315.7" rx="0.9" ry="1.1" fill="#ccc"/>
<ellipse cx="573" cy="321" rx="4" ry="6" fill="#fff" stroke="#3a3a3a" stroke-width="0.8" transform="rotate(14 573 321)"/>
<ellipse cx="574" cy="321.5" rx="2.4" ry="3.5" fill="none" stroke="#888" stroke-width="0.6" transform="rotate(14 574 321.5)"/>
<ellipse cx="604.6" cy="323" rx="1.9" ry="1.71" fill="#2e2e2e" stroke="#444" stroke-width="0.5"/>
<ellipse cx="617.5" cy="324.2" rx="1.9" ry="1.71" fill="#2e2e2e" stroke="#444" stroke-width="0.5"/>
<ellipse cx="591.8" cy="338.5" rx="1.9" ry="1.71" fill="#2e2e2e" stroke="#444" stroke-width="0.5"/>
<ellipse cx="617.5" cy="340.5" rx="1.9" ry="1.71" fill="#2e2e2e" stroke="#444" stroke-width="0.5"/>
<ellipse cx="591.8" cy="356" rx="1.9" ry="1.71" fill="#2e2e2e" stroke="#444" stroke-width="0.5"/>
<ellipse cx="604.8" cy="356.8" rx="1.9" ry="1.71" fill="#2e2e2e" stroke="#444" stroke-width="0.5"/>
<line x1="624.8" y1="334.4" x2="641.2" y2="343.67" stroke="#555" stroke-width="3" stroke-linecap="round"/>
<line x1="624.8" y1="334.4" x2="641.2" y2="343.67" stroke="#f2f2f2" stroke-width="1.7" stroke-linecap="round"/>
<line x1="641.2" y1="343.67" x2="643.2" y2="344.8" stroke="#333" stroke-width="3.9" stroke-linecap="round"/>
<line x1="641.55" y1="343.87" x2="642.68" y2="344.5" stroke="#5a5a5a" stroke-width="2.5" stroke-linecap="round"/>
<line x1="636.8" y1="335.2" x2="654.01" y2="345.24" stroke="#555" stroke-width="3" stroke-linecap="round"/>
<line x1="636.8" y1="335.2" x2="654.01" y2="345.24" stroke="#f2f2f2" stroke-width="1.7" stroke-linecap="round"/>
<line x1="654.01" y1="345.24" x2="656" y2="346.4" stroke="#333" stroke-width="3.9" stroke-linecap="round"/>
<line x1="654.36" y1="345.44" x2="655.48" y2="346.1" stroke="#5a5a5a" stroke-width="2.5" stroke-linecap="round"/>
<line x1="612" y1="350.4" x2="628.4" y2="359.67" stroke="#555" stroke-width="3" stroke-linecap="round"/>
<line x1="612" y1="350.4" x2="628.4" y2="359.67" stroke="#f2f2f2" stroke-width="1.7" stroke-linecap="round"/>
<line x1="628.4" y1="359.67" x2="630.4" y2="360.8" stroke="#333" stroke-width="3.9" stroke-linecap="round"/>
<line x1="628.75" y1="359.87" x2="629.88" y2="360.5" stroke="#5a5a5a" stroke-width="2.5" stroke-linecap="round"/>
<line x1="636.8" y1="352" x2="653.2" y2="361.27" stroke="#555" stroke-width="3" stroke-linecap="round"/>
<line x1="636.8" y1="352" x2="653.2" y2="361.27" stroke="#f2f2f2" stroke-width="1.7" stroke-linecap="round"/>
<line x1="653.2" y1="361.27" x2="655.2" y2="362.4" stroke="#333" stroke-width="3.9" stroke-linecap="round"/>
<line x1="653.55" y1="361.47" x2="654.68" y2="362.1" stroke="#5a5a5a" stroke-width="2.5" stroke-linecap="round"/>
<line x1="612" y1="367.2" x2="628.44" y2="377.2" stroke="#555" stroke-width="3" stroke-linecap="round"/>
<line x1="612" y1="367.2" x2="628.44" y2="377.2" stroke="#f2f2f2" stroke-width="1.7" stroke-linecap="round"/>
<line x1="628.44" y1="377.2" x2="630.4" y2="378.4" stroke="#333" stroke-width="3.9" stroke-linecap="round"/>
<line x1="628.78" y1="377.41" x2="629.89" y2="378.09" stroke="#5a5a5a" stroke-width="2.5" stroke-linecap="round"/>
<line x1="624.8" y1="368" x2="641.2" y2="377.27" stroke="#555" stroke-width="3" stroke-linecap="round"/>
<line x1="624.8" y1="368" x2="641.2" y2="377.27" stroke="#f2f2f2" stroke-width="1.7" stroke-linecap="round"/>
<line x1="641.2" y1="377.27" x2="643.2" y2="378.4" stroke="#333" stroke-width="3.9" stroke-linecap="round"/>
<line x1="641.55" y1="377.47" x2="642.68" y2="378.1" stroke="#5a5a5a" stroke-width="2.5" stroke-linecap="round"/>
<ellipse cx="672.5" cy="378.5" rx="5.2" ry="7.2" fill="none" stroke="#3a3a3a" stroke-width="1.1" transform="rotate(28 672.5 378.5)"/>
<ellipse cx="672.7" cy="378.6" rx="3.8" ry="5.8" fill="none" stroke="#555" stroke-width="0.7" transform="rotate(28 672.7 378.6)"/>
<ellipse cx="690.5" cy="388.5" rx="7.6" ry="10.2" fill="#fff" stroke="#3a3a3a" stroke-width="0.9" transform="rotate(25 690.5 388.5)"/>
<polygon points="685.72,397.5 692.72,401.8 702.28,383.8 695.28,379.5" fill="#fff"/>
<line x1="685.72" y1="397.5" x2="692.72" y2="401.8" stroke="#3a3a3a" stroke-width="0.9" stroke-linecap="round"/>
<line x1="695.28" y1="379.5" x2="702.28" y2="383.8" stroke="#3a3a3a" stroke-width="0.9" stroke-linecap="round"/>
<ellipse cx="697.5" cy="392.8" rx="7.6" ry="10.2" fill="#fff" stroke="#3a3a3a" stroke-width="0.9" transform="rotate(25 697.5 392.8)"/>
<ellipse cx="690.5" cy="388.5" rx="7.6" ry="10.2" fill="none" stroke="#3a3a3a" stroke-width="1" transform="rotate(25 690.5 388.5)"/>
<path d="M 688,380 C 683,384 682,396 688,399" fill="none" stroke="#333" stroke-width="1.6" stroke-linejoin="round" stroke-linecap="round"/>
<line x1="691.5" y1="386" x2="688.8" y2="398.5" stroke="#333" stroke-width="1.4" stroke-linecap="round"/>
<ellipse cx="697.5" cy="392.8" rx="7.6" ry="10.2" fill="#fff" stroke="#3a3a3a" stroke-width="0.9" transform="rotate(25 697.5 392.8)"/>
<ellipse cx="698.2" cy="393.2" rx="6.2" ry="8.6" fill="none" stroke="#666" stroke-width="0.6" transform="rotate(25 698.2 393.2)"/>
<ellipse cx="717.5" cy="403.5" rx="11.2" ry="14.6" fill="#fff" stroke="#3a3a3a" stroke-width="0.9" transform="rotate(25 717.5 403.5)"/>
<polygon points="710.3,416.16 716.3,420.16 730.7,394.84 724.7,390.84" fill="#fff"/>
<line x1="710.3" y1="416.16" x2="716.3" y2="420.16" stroke="#3a3a3a" stroke-width="0.9" stroke-linecap="round"/>
<line x1="724.7" y1="390.84" x2="730.7" y2="394.84" stroke="#3a3a3a" stroke-width="0.9" stroke-linecap="round"/>
<ellipse cx="723.5" cy="407.5" rx="11.2" ry="14.6" fill="#fff" stroke="#3a3a3a" stroke-width="0.9" transform="rotate(25 723.5 407.5)"/>
<polygon points="714.89,416.19 718.09,418.29 718.09,420.79 714.89,418.69" fill="#fff" stroke="#444" stroke-width="0.7" stroke-linejoin="round"/>
<polygon points="710.76,413.26 713.96,415.36 713.96,417.86 710.76,415.76" fill="#fff" stroke="#444" stroke-width="0.7" stroke-linejoin="round"/>
<polygon points="708.09,408.21 711.29,410.31 711.29,412.81 708.09,410.71" fill="#fff" stroke="#444" stroke-width="0.7" stroke-linejoin="round"/>
<polygon points="707.48,402.13 710.68,404.23 710.68,406.73 707.48,404.63" fill="#fff" stroke="#444" stroke-width="0.7" stroke-linejoin="round"/>
<polygon points="709.05,396.34 712.25,398.44 712.25,400.94 709.05,398.84" fill="#fff" stroke="#444" stroke-width="0.7" stroke-linejoin="round"/>
<polygon points="712.46,392.12 715.66,394.22 715.66,396.72 712.46,394.62" fill="#fff" stroke="#444" stroke-width="0.7" stroke-linejoin="round"/>
<polygon points="716.97,390.38 720.17,392.48 720.17,394.98 716.97,392.88" fill="#fff" stroke="#444" stroke-width="0.7" stroke-linejoin="round"/>
<ellipse cx="723.5" cy="407.5" rx="11.2" ry="14.6" fill="#fff" stroke="#3a3a3a" stroke-width="0.95" transform="rotate(25 723.5 407.5)"/>
<ellipse cx="725" cy="408.5" rx="7.6" ry="10.8" fill="#fff" stroke="#3a3a3a" stroke-width="0.9" transform="rotate(25 725 408.5)"/>
<ellipse cx="725.6" cy="409" rx="6.4" ry="9.4" fill="none" stroke="#777" stroke-width="0.6" transform="rotate(25 725.6 409)"/>
<ellipse cx="741.5" cy="421" rx="4.6" ry="7.6" fill="#fff" stroke="#3a3a3a" stroke-width="0.9" transform="rotate(25 741.5 421)"/>
<polygon points="738.01,427.74 740.01,428.94 746.99,415.46 744.99,414.26" fill="#fff"/>
<line x1="738.01" y1="427.74" x2="740.01" y2="428.94" stroke="#3a3a3a" stroke-width="0.9" stroke-linecap="round"/>
<line x1="744.99" y1="414.26" x2="746.99" y2="415.46" stroke="#3a3a3a" stroke-width="0.9" stroke-linecap="round"/>
<ellipse cx="743.5" cy="422.2" rx="4.6" ry="7.6" fill="#fff" stroke="#3a3a3a" stroke-width="0.9" transform="rotate(25 743.5 422.2)"/>
<polygon points="745,417.5 749,419.5 747,427 743.5,425" fill="#fff" stroke="#3a3a3a" stroke-width="0.8" stroke-linejoin="round"/>
<ellipse cx="747" cy="422.5" rx="3.4" ry="5.2" fill="#ddd" stroke="#3a3a3a" stroke-width="0.9" transform="rotate(25 747 422.5)"/>
<polygon points="744.7,427.16 755.7,432.66 760.3,423.34 749.3,417.84" fill="#ddd"/>
<line x1="744.7" y1="427.16" x2="755.7" y2="432.66" stroke="#3a3a3a" stroke-width="0.9" stroke-linecap="round"/>
<line x1="749.3" y1="417.84" x2="760.3" y2="423.34" stroke="#3a3a3a" stroke-width="0.9" stroke-linecap="round"/>
<ellipse cx="758" cy="428" rx="3.4" ry="5.2" fill="#ddd" stroke="#3a3a3a" stroke-width="0.9" transform="rotate(25 758 428)"/>
<ellipse cx="748" cy="423" rx="3.4" ry="5.2" fill="none" stroke="#555" stroke-width="0.5" transform="rotate(25 748 423)"/>
<ellipse cx="750" cy="424" rx="3.4" ry="5.2" fill="none" stroke="#555" stroke-width="0.5" transform="rotate(25 750 424)"/>
<ellipse cx="752" cy="425" rx="3.4" ry="5.2" fill="none" stroke="#555" stroke-width="0.5" transform="rotate(25 752 425)"/>
<ellipse cx="754" cy="426" rx="3.4" ry="5.2" fill="none" stroke="#555" stroke-width="0.5" transform="rotate(25 754 426)"/>
<ellipse cx="756" cy="427" rx="3.4" ry="5.2" fill="none" stroke="#555" stroke-width="0.5" transform="rotate(25 756 427)"/>
<ellipse cx="758" cy="428" rx="3.4" ry="5.2" fill="#fff" stroke="#3a3a3a" stroke-width="0.9" transform="rotate(25 758 428)"/>
<ellipse cx="758.3" cy="428.2" rx="2.1" ry="3.4" fill="#fff" stroke="#3a3a3a" stroke-width="0.6" transform="rotate(25 758.3 428.2)"/>
<line x1="46.5" y1="59.3" x2="100.0" y2="58.0" stroke="#4a4a4a" stroke-width="0.85"/>
<circle cx="39.5" cy="59.5" r="6.5" fill="#fff" stroke="#5a5a5a" stroke-width="0.95"/>
<text x="39.5" y="62.0" font-size="7.0" text-anchor="middle" fill="#3e3e3e" stroke="#3e3e3e" stroke-width="0.15" textLength="3.6" lengthAdjust="spacingAndGlyphs">1</text>
<line x1="44.9" y1="90.7" x2="68.0" y2="105.0" stroke="#4a4a4a" stroke-width="0.85"/>
<circle cx="39.0" cy="87.0" r="6.5" fill="#fff" stroke="#5a5a5a" stroke-width="0.95"/>
<text x="39.0" y="89.5" font-size="7.0" text-anchor="middle" fill="#3e3e3e" stroke="#3e3e3e" stroke-width="0.15" textLength="7.0" lengthAdjust="spacingAndGlyphs">24</text>
<line x1="46.0" y1="117.8" x2="91.0" y2="113.0" stroke="#4a4a4a" stroke-width="0.85"/>
<circle cx="39.0" cy="118.5" r="6.5" fill="#fff" stroke="#5a5a5a" stroke-width="0.95"/>
<text x="39.0" y="121.0" font-size="7.0" text-anchor="middle" fill="#3e3e3e" stroke="#3e3e3e" stroke-width="0.15" textLength="7.0" lengthAdjust="spacingAndGlyphs">19</text>
<line x1="45.9" y1="139.4" x2="92.0" y2="132.4" stroke="#4a4a4a" stroke-width="0.85"/>
<circle cx="39.0" cy="140.5" r="6.5" fill="#fff" stroke="#5a5a5a" stroke-width="0.95"/>
<text x="39.0" y="143.0" font-size="7.0" text-anchor="middle" fill="#3e3e3e" stroke="#3e3e3e" stroke-width="0.15" textLength="7.0" lengthAdjust="spacingAndGlyphs">21</text>
<line x1="45.9" y1="160.4" x2="94.0" y2="153.0" stroke="#4a4a4a" stroke-width="0.85"/>
<circle cx="39.0" cy="161.5" r="6.5" fill="#fff" stroke="#5a5a5a" stroke-width="0.95"/>
<text x="39.0" y="164.0" font-size="7.0" text-anchor="middle" fill="#3e3e3e" stroke="#3e3e3e" stroke-width="0.15" textLength="7.0" lengthAdjust="spacingAndGlyphs">22</text>
<line x1="208.4" y1="66.3" x2="188.0" y2="90.0" stroke="#4a4a4a" stroke-width="0.85"/>
<circle cx="188.0" cy="90.0" r="1.2" fill="#333"/>
<circle cx="213.0" cy="61.0" r="6.5" fill="#fff" stroke="#5a5a5a" stroke-width="0.95"/>
<text x="213.0" y="63.5" font-size="7.0" text-anchor="middle" fill="#3e3e3e" stroke="#3e3e3e" stroke-width="0.15" textLength="7.0" lengthAdjust="spacingAndGlyphs">25</text>
<line x1="226.5" y1="75.4" x2="200.0" y2="100.0" stroke="#4a4a4a" stroke-width="0.85"/>
<circle cx="231.6" cy="70.6" r="6.5" fill="#fff" stroke="#5a5a5a" stroke-width="0.95"/>
<text x="231.6" y="73.1" font-size="7.0" text-anchor="middle" fill="#3e3e3e" stroke="#3e3e3e" stroke-width="0.15" textLength="3.6" lengthAdjust="spacingAndGlyphs">5</text>
<line x1="244.9" y1="87.8" x2="223.0" y2="108.0" stroke="#4a4a4a" stroke-width="0.85"/>
<circle cx="250.0" cy="83.0" r="6.5" fill="#fff" stroke="#5a5a5a" stroke-width="0.95"/>
<text x="250.0" y="85.5" font-size="7.0" text-anchor="middle" fill="#3e3e3e" stroke="#3e3e3e" stroke-width="0.15" textLength="7.0" lengthAdjust="spacingAndGlyphs">4A</text>
<line x1="262.9" y1="98.8" x2="241.0" y2="119.0" stroke="#4a4a4a" stroke-width="0.85"/>
<circle cx="268.0" cy="94.0" r="6.5" fill="#fff" stroke="#5a5a5a" stroke-width="0.95"/>
<text x="268.0" y="96.5" font-size="7.0" text-anchor="middle" fill="#3e3e3e" stroke="#3e3e3e" stroke-width="0.15" textLength="7.0" lengthAdjust="spacingAndGlyphs">4B</text>
<line x1="280.6" y1="111.5" x2="256.0" y2="132.0" stroke="#4a4a4a" stroke-width="0.85"/>
<circle cx="286.0" cy="107.0" r="6.5" fill="#fff" stroke="#5a5a5a" stroke-width="0.95"/>
<text x="286.0" y="109.5" font-size="7.0" text-anchor="middle" fill="#3e3e3e" stroke="#3e3e3e" stroke-width="0.15" textLength="7.0" lengthAdjust="spacingAndGlyphs">4C</text>
<line x1="300.7" y1="124.1" x2="285.0" y2="138.0" stroke="#4a4a4a" stroke-width="0.85"/>
<circle cx="306.0" cy="119.5" r="6.5" fill="#fff" stroke="#5a5a5a" stroke-width="0.95"/>
<text x="306.0" y="122.0" font-size="7.0" text-anchor="middle" fill="#3e3e3e" stroke="#3e3e3e" stroke-width="0.15" textLength="7.0" lengthAdjust="spacingAndGlyphs">4D</text>
<line x1="321.4" y1="135.3" x2="298.0" y2="162.0" stroke="#4a4a4a" stroke-width="0.85"/>
<circle cx="326.0" cy="130.0" r="6.5" fill="#fff" stroke="#5a5a5a" stroke-width="0.95"/>
<text x="326.0" y="132.5" font-size="7.0" text-anchor="middle" fill="#3e3e3e" stroke="#3e3e3e" stroke-width="0.15" textLength="7.0" lengthAdjust="spacingAndGlyphs">21</text>
<line x1="340.9" y1="147.7" x2="330.0" y2="163.0" stroke="#4a4a4a" stroke-width="0.85"/>
<circle cx="345.0" cy="142.0" r="6.5" fill="#fff" stroke="#5a5a5a" stroke-width="0.95"/>
<text x="345.0" y="144.5" font-size="7.0" text-anchor="middle" fill="#3e3e3e" stroke="#3e3e3e" stroke-width="0.15" textLength="7.0" lengthAdjust="spacingAndGlyphs">23</text>
<line x1="360.9" y1="159.5" x2="354.0" y2="177.0" stroke="#4a4a4a" stroke-width="0.85"/>
<circle cx="363.5" cy="153.0" r="6.5" fill="#fff" stroke="#5a5a5a" stroke-width="0.95"/>
<text x="363.5" y="155.5" font-size="7.0" text-anchor="middle" fill="#3e3e3e" stroke="#3e3e3e" stroke-width="0.15" textLength="7.0" lengthAdjust="spacingAndGlyphs">22</text>
<line x1="383.2" y1="171.3" x2="368.0" y2="179.0" stroke="#4a4a4a" stroke-width="0.85"/>
<circle cx="389.5" cy="168.2" r="6.5" fill="#fff" stroke="#5a5a5a" stroke-width="0.95"/>
<text x="389.5" y="170.7" font-size="7.0" text-anchor="middle" fill="#3e3e3e" stroke="#3e3e3e" stroke-width="0.15" textLength="3.6" lengthAdjust="spacingAndGlyphs">2</text>
<line x1="408.2" y1="192.1" x2="398.0" y2="203.0" stroke="#4a4a4a" stroke-width="0.85"/>
<circle cx="413.0" cy="187.0" r="6.5" fill="#fff" stroke="#5a5a5a" stroke-width="0.95"/>
<text x="413.0" y="189.5" font-size="7.0" text-anchor="middle" fill="#3e3e3e" stroke="#3e3e3e" stroke-width="0.15" textLength="3.6" lengthAdjust="spacingAndGlyphs">3</text>
<line x1="434.1" y1="201.8" x2="418.0" y2="212.0" stroke="#4a4a4a" stroke-width="0.85"/>
<circle cx="440.0" cy="198.0" r="6.5" fill="#fff" stroke="#5a5a5a" stroke-width="0.95"/>
<text x="440.0" y="200.5" font-size="7.0" text-anchor="middle" fill="#3e3e3e" stroke="#3e3e3e" stroke-width="0.15" textLength="3.6" lengthAdjust="spacingAndGlyphs">6</text>
<line x1="462.3" y1="219.0" x2="438.0" y2="236.0" stroke="#4a4a4a" stroke-width="0.85"/>
<circle cx="468.0" cy="215.0" r="6.5" fill="#fff" stroke="#5a5a5a" stroke-width="0.95"/>
<text x="468.0" y="217.5" font-size="7.0" text-anchor="middle" fill="#3e3e3e" stroke="#3e3e3e" stroke-width="0.15" textLength="7.0" lengthAdjust="spacingAndGlyphs">4E</text>
<line x1="492.4" y1="237.2" x2="478.0" y2="248.0" stroke="#4a4a4a" stroke-width="0.85"/>
<circle cx="498.0" cy="233.0" r="6.5" fill="#fff" stroke="#5a5a5a" stroke-width="0.95"/>
<text x="498.0" y="235.5" font-size="7.0" text-anchor="middle" fill="#3e3e3e" stroke="#3e3e3e" stroke-width="0.15" textLength="3.6" lengthAdjust="spacingAndGlyphs">7</text>
<line x1="519.7" y1="263.5" x2="505.0" y2="276.0" stroke="#4a4a4a" stroke-width="0.85"/>
<circle cx="525.0" cy="259.0" r="6.5" fill="#fff" stroke="#5a5a5a" stroke-width="0.95"/>
<text x="525.0" y="261.5" font-size="7.0" text-anchor="middle" fill="#3e3e3e" stroke="#3e3e3e" stroke-width="0.15" textLength="3.6" lengthAdjust="spacingAndGlyphs">8</text>
<line x1="539.7" y1="272.6" x2="522.0" y2="288.0" stroke="#4a4a4a" stroke-width="0.85"/>
<circle cx="545.0" cy="268.0" r="6.5" fill="#fff" stroke="#5a5a5a" stroke-width="0.95"/>
<text x="545.0" y="270.5" font-size="7.0" text-anchor="middle" fill="#3e3e3e" stroke="#3e3e3e" stroke-width="0.15" textLength="3.6" lengthAdjust="spacingAndGlyphs">9</text>
<line x1="607.5" y1="156.9" x2="574.0" y2="171.0" stroke="#4a4a4a" stroke-width="0.85"/>
<circle cx="614.0" cy="154.2" r="6.5" fill="#fff" stroke="#5a5a5a" stroke-width="0.95"/>
<text x="614.0" y="156.7" font-size="7.0" text-anchor="middle" fill="#3e3e3e" stroke="#3e3e3e" stroke-width="0.15" textLength="7.0" lengthAdjust="spacingAndGlyphs">18</text>
<line x1="607.5" y1="198.7" x2="580.0" y2="210.0" stroke="#4a4a4a" stroke-width="0.85"/>
<circle cx="614.0" cy="196.0" r="6.5" fill="#fff" stroke="#5a5a5a" stroke-width="0.95"/>
<text x="614.0" y="198.5" font-size="7.0" text-anchor="middle" fill="#3e3e3e" stroke="#3e3e3e" stroke-width="0.15" textLength="7.0" lengthAdjust="spacingAndGlyphs">17</text>
<line x1="608.1" y1="223.9" x2="577.0" y2="232.6" stroke="#4a4a4a" stroke-width="0.85"/>
<circle cx="614.8" cy="222.0" r="6.5" fill="#fff" stroke="#5a5a5a" stroke-width="0.95"/>
<text x="614.8" y="224.5" font-size="7.0" text-anchor="middle" fill="#3e3e3e" stroke="#3e3e3e" stroke-width="0.15" textLength="7.0" lengthAdjust="spacingAndGlyphs">16</text>
<line x1="608.1" y1="249.9" x2="576.4" y2="260.0" stroke="#4a4a4a" stroke-width="0.85"/>
<circle cx="614.8" cy="247.8" r="6.5" fill="#fff" stroke="#5a5a5a" stroke-width="0.95"/>
<text x="614.8" y="250.3" font-size="7.0" text-anchor="middle" fill="#3e3e3e" stroke="#3e3e3e" stroke-width="0.15" textLength="7.0" lengthAdjust="spacingAndGlyphs">15</text>
<line x1="610.8" y1="295.3" x2="579.6" y2="312.0" stroke="#4a4a4a" stroke-width="0.85"/>
<circle cx="617.0" cy="292.0" r="6.5" fill="#fff" stroke="#5a5a5a" stroke-width="0.95"/>
<text x="617.0" y="294.5" font-size="7.0" text-anchor="middle" fill="#3e3e3e" stroke="#3e3e3e" stroke-width="0.15" textLength="7.0" lengthAdjust="spacingAndGlyphs">10</text>
<line x1="646.4" y1="310.9" x2="618.4" y2="323.7" stroke="#4a4a4a" stroke-width="0.85"/>
<circle cx="652.8" cy="308.0" r="6.5" fill="#fff" stroke="#5a5a5a" stroke-width="0.95"/>
<text x="652.8" y="310.5" font-size="7.0" text-anchor="middle" fill="#3e3e3e" stroke="#3e3e3e" stroke-width="0.15" textLength="7.0" lengthAdjust="spacingAndGlyphs">21</text>
<line x1="683.0" y1="330.0" x2="656.0" y2="346.4" stroke="#4a4a4a" stroke-width="0.85"/>
<circle cx="689.0" cy="326.4" r="6.5" fill="#fff" stroke="#5a5a5a" stroke-width="0.95"/>
<text x="689.0" y="328.9" font-size="7.0" text-anchor="middle" fill="#3e3e3e" stroke="#3e3e3e" stroke-width="0.15" textLength="7.0" lengthAdjust="spacingAndGlyphs">20</text>
<line x1="708.4" y1="346.5" x2="674.8" y2="371.2" stroke="#4a4a4a" stroke-width="0.85"/>
<circle cx="714.0" cy="342.4" r="6.5" fill="#fff" stroke="#5a5a5a" stroke-width="0.95"/>
<text x="714.0" y="344.9" font-size="7.0" text-anchor="middle" fill="#3e3e3e" stroke="#3e3e3e" stroke-width="0.15" textLength="7.0" lengthAdjust="spacingAndGlyphs">11</text>
<line x1="730.5" y1="363.9" x2="704.4" y2="388.0" stroke="#4a4a4a" stroke-width="0.85"/>
<circle cx="735.6" cy="359.2" r="6.5" fill="#fff" stroke="#5a5a5a" stroke-width="0.95"/>
<text x="735.6" y="361.7" font-size="7.0" text-anchor="middle" fill="#3e3e3e" stroke="#3e3e3e" stroke-width="0.15" textLength="7.0" lengthAdjust="spacingAndGlyphs">12</text>
<line x1="750.9" y1="378.2" x2="734.0" y2="397.2" stroke="#4a4a4a" stroke-width="0.85"/>
<circle cx="755.6" cy="373.0" r="6.5" fill="#fff" stroke="#5a5a5a" stroke-width="0.95"/>
<text x="755.6" y="375.5" font-size="7.0" text-anchor="middle" fill="#3e3e3e" stroke="#3e3e3e" stroke-width="0.15" textLength="7.0" lengthAdjust="spacingAndGlyphs">13</text>
<line x1="770.3" y1="391.4" x2="750.8" y2="414.8" stroke="#4a4a4a" stroke-width="0.85"/>
<circle cx="774.8" cy="386.0" r="6.5" fill="#fff" stroke="#5a5a5a" stroke-width="0.95"/>
<text x="774.8" y="388.5" font-size="7.0" text-anchor="middle" fill="#3e3e3e" stroke="#3e3e3e" stroke-width="0.15" textLength="7.0" lengthAdjust="spacingAndGlyphs">14</text></svg>
<div class="r" style="top:214.00px"><span class="n b" style="left:31.0px">1</span><span class="c b" style="left:58.6px">1037-110</span><span class="d" style="left:126.2px">Elektrik Motoru<i> / Electric Motor</i></span></div>
<div class="r" style="top:226.22px"><span class="c" style="left:58.6px">1055-110</span><span class="d" style="left:126.2px">Elektrik Motoru<i> / Electric Motor</i></span></div>
<div class="r" style="top:238.44px"><span class="c" style="left:58.6px">1075-110</span><span class="d" style="left:126.2px">Elektrik Motoru<i> / Electric Motor</i></span></div>
<div class="r" style="top:250.66px"><span class="n b" style="left:31.0px">2</span><span class="c b" style="left:58.6px">1037-120</span><span class="d" style="left:126.2px">Gövde<i> / Body</i></span></div>
<div class="r" style="top:262.88px"><span class="c" style="left:58.6px">1055-120</span><span class="d" style="left:126.2px">Gövde<i> / Body</i></span></div>
<div class="r" style="top:275.10px"><span class="c" style="left:58.6px">1075-120</span><span class="d" style="left:126.2px">Gövde<i> / Body</i></span></div>
<div class="r" style="top:287.32px"><span class="n b" style="left:31.0px">3</span><span class="c" style="left:58.6px">1100-130</span><span class="d" style="left:126.2px">Oring<i> / Oring</i></span></div>
<div class="r" style="top:299.54px"><span class="n b" style="left:31.0px">4</span><span class="c" style="left:58.6px">1100-140</span><span class="d" style="left:126.2px">Mekanik Salmastra<i> / Mechanical Seal</i></span></div>
<div class="r" style="top:311.76px"><span class="n" style="left:31.0px">4A</span><span class="c" style="left:58.6px">1100-142</span><span class="d" style="left:126.2px">Segman<i> / Segment</i></span></div>
<div class="r" style="top:323.98px"><span class="n" style="left:31.0px">4B</span><span class="c" style="left:58.6px">1100-143</span><span class="d" style="left:126.2px">Yay Dayaması<i> / Spring Stop</i></span></div>
<div class="r" style="top:336.20px"><span class="n" style="left:31.0px">4C</span><span class="c" style="left:58.6px">1100-144</span><span class="d" style="left:126.2px">Yay<i> / Spring</i></span></div>
<div class="r" style="top:348.42px"><span class="n" style="left:31.0px">4D</span><span class="c" style="left:58.6px">1100-145</span><span class="d" style="left:126.2px">Mekanik Salmastra (Sabit) <i> / M. Seal (Fixed)</i></span></div>
<div class="r" style="top:360.64px"><span class="n" style="left:31.0px">4d1</span><span class="c" style="left:58.6px">1100-210</span><span class="d" style="left:126.2px">Silisyum<i> / Silisyum</i></span></div>
<div class="r" style="top:372.86px"><span class="n" style="left:31.0px">4d2</span><span class="c" style="left:58.6px">1100-220</span><span class="d" style="left:126.2px">Seramik<i> / Ceramic</i></span></div>
<div class="r" style="top:385.08px"><span class="n" style="left:31.0px">4d3</span><span class="c" style="left:58.6px">1100-230</span><span class="d" style="left:126.2px">R.Karbon<i> / Resin Carbon</i></span></div>
<div class="r" style="top:397.30px"><span class="n" style="left:31.0px">4E</span><span class="c" style="left:58.6px">1100-146</span><span class="d" style="left:126.2px">Mekanik Salmastra<i> / M. Seal (Moving)</i></span></div>
<div class="r" style="top:409.52px"><span class="n" style="left:31.0px">4e1</span><span class="c" style="left:58.6px">1100-310</span><span class="d" style="left:126.2px">R.Karbon<i> / Resin Carbon</i></span></div>
<div class="r" style="top:421.74px"><span class="n" style="left:31.0px">4e2</span><span class="c" style="left:58.6px">1100-320</span><span class="d" style="left:126.2px">A.Karbon<i> / A. Carbon</i></span></div>
<div class="r" style="top:433.96px"><span class="n" style="left:31.0px">4e3</span><span class="c" style="left:58.6px">1100-330</span><span class="d" style="left:126.2px">Silisyum<i> / Silisyum</i></span></div>
<div class="r" style="top:446.18px"><span class="n b" style="left:31.0px">5</span><span class="c" style="left:58.6px">1100-150</span><span class="d" style="left:126.2px">Mil<i> / Shaft</i></span></div>
<div class="r" style="top:458.40px"><span class="n b" style="left:31.0px">6</span><span class="c" style="left:58.6px">1100-160</span><span class="d" style="left:126.2px">Salmastra Somunu<i> / M. Seal Tightening Nut</i></span></div>
<div class="r" style="top:38.90px"><span class="n b" style="left:679.0px">7</span><span class="c b" style="left:707.0px">1037-170</span><span class="d" style="left:775.0px">Fan<i> / Impeller</i></span><span class="q" style="right:29.30px">1</span></div>
<div class="r" style="top:51.12px"><span class="c" style="left:707.0px">1055-170</span><span class="d" style="left:775.0px">Fan<i> / Impeller</i></span><span class="q" style="right:29.30px">1</span></div>
<div class="r" style="top:63.34px"><span class="c" style="left:707.0px">1075-170</span><span class="d" style="left:775.0px">Fan<i> / Impeller</i></span><span class="q" style="right:29.30px">1</span></div>
<div class="r" style="top:75.56px"><span class="n b" style="left:679.0px">8</span><span class="c" style="left:707.0px">1100-180</span><span class="d" style="left:775.0px">Oring<i> / Oring</i></span><span class="q" style="right:29.30px">1</span></div>
<div class="r" style="top:87.78px"><span class="n b" style="left:679.0px">9</span><span class="c" style="left:707.0px">1100-190</span><span class="d" style="left:775.0px">Fan Sıkma Somunu<i> / Impeller Tightening Nut</i></span><span class="q" style="right:29.30px">1</span></div>
<div class="r" style="top:100.00px"><span class="n b" style="left:679.0px">10</span><span class="c" style="left:707.0px">1100-200</span><span class="d" style="left:775.0px">Kapak<i> / Pump Cover</i></span><span class="q" style="right:29.30px">1</span></div>
<div class="r" style="top:112.22px"><span class="n b" style="left:679.0px">11</span><span class="c" style="left:707.0px">1100-210</span><span class="d" style="left:775.0px">Oring<i> / Oring</i></span><span class="q" style="right:29.30px">1</span></div>
<div class="r" style="top:124.44px"><span class="n b" style="left:679.0px">12</span><span class="c" style="left:707.0px">1100-220</span><span class="d" style="left:775.0px">Boru Bağlantı<i> / Female Solvent Socket</i></span><span class="q" style="right:29.30px">1</span></div>
<div class="r" style="top:136.66px"><span class="n b" style="left:679.0px">13</span><span class="c" style="left:707.0px">1100-230</span><span class="d" style="left:775.0px">Somun<i> / Plastic Nut</i></span><span class="q" style="right:29.30px">1</span></div>
<div class="r" style="top:148.88px"><span class="n b" style="left:679.0px">14</span><span class="c" style="left:707.0px">1100-235</span><span class="d" style="left:775.0px">Hortum Rekoru 1 ¼”<i> / Hose Fitting 1 ¼”</i></span><span class="q" style="right:29.30px">1</span></div>
<div class="r" style="top:161.10px"><span class="n b" style="left:679.0px">15</span><span class="c" style="left:707.0px">1100-240</span><span class="d" style="left:775.0px">Oring<i> / Oring</i></span><span class="q" style="right:29.30px">1</span></div>
<div class="r" style="top:173.32px"><span class="n b" style="left:679.0px">16</span><span class="c" style="left:707.0px">1100-250</span><span class="d" style="left:775.0px">Boru Bağlantı<i> / Female Solvent Socket</i></span><span class="q" style="right:29.30px">1</span></div>
<div class="r" style="top:185.54px"><span class="n b" style="left:679.0px">17</span><span class="c" style="left:707.0px">1100-260</span><span class="d" style="left:775.0px">Somun<i> / Plastic Nut</i></span><span class="q" style="right:29.30px">1</span></div>
<div class="r" style="top:197.76px"><span class="n b" style="left:679.0px">18</span><span class="c" style="left:707.0px">1100-265</span><span class="d" style="left:775.0px">Hortum Rekoru 1”<i> / Hose Fitting 1”</i></span><span class="q" style="right:29.30px">1</span></div>
<div class="r" style="top:209.98px"><span class="n b" style="left:679.0px">19</span><span class="c" style="left:707.0px">1100-270</span><span class="d" style="left:775.0px">Motor Bağlantı Ayağı<i> / Electric Motor Bracket</i></span><span class="q" style="right:29.30px">2</span></div>
<div class="r" style="top:222.20px"><span class="n b" style="left:679.0px">20</span><span class="c" style="left:707.0px">CM6X70-IP</span><span class="d" style="left:775.0px">Cıvata M6 X 70<i> / Capscrew M6 X 70</i></span><span class="q" style="right:29.30px">5</span></div>
<div class="r" style="top:234.42px"><span class="n b" style="left:679.0px">21</span><span class="c" style="left:707.0px">PM6-P</span><span class="d" style="left:775.0px">Pul M6<i> / Washer M6</i></span><span class="q" style="right:29.30px">13</span></div>
<div class="r" style="top:246.64px"><span class="n b" style="left:679.0px">22</span><span class="c" style="left:707.0px">SM6-FP</span><span class="d" style="left:775.0px">Somun Flanşlı M6<i> / Nut Flanged M6</i></span><span class="q" style="right:29.30px">9</span></div>
<div class="r" style="top:258.86px"><span class="n b" style="left:679.0px">23</span><span class="c" style="left:707.0px">CM6X25-P</span><span class="d" style="left:775.0px">Cıvata M6 X 25<i> / Capscrew M6 X 25</i></span><span class="q" style="right:29.30px">4</span></div>
<div class="r" style="top:271.08px"><span class="n b" style="left:679.0px">24</span><span class="c" style="left:707.0px">CM6X30-P</span><span class="d" style="left:775.0px">Cıvata M6 X 30<i> / Capscrew M6 X 30</i></span><span class="q" style="right:29.30px">4</span></div>
<div class="r" style="top:283.30px"><span class="n b" style="left:679.0px">25</span><span class="c" style="left:707.0px">ST5X8-P</span><span class="d" style="left:775.0px">Setskur M5x8<i> / Screw Bolt M5x8</i></span><span class="q" style="right:29.30px">1</span></div>
</body></html>
